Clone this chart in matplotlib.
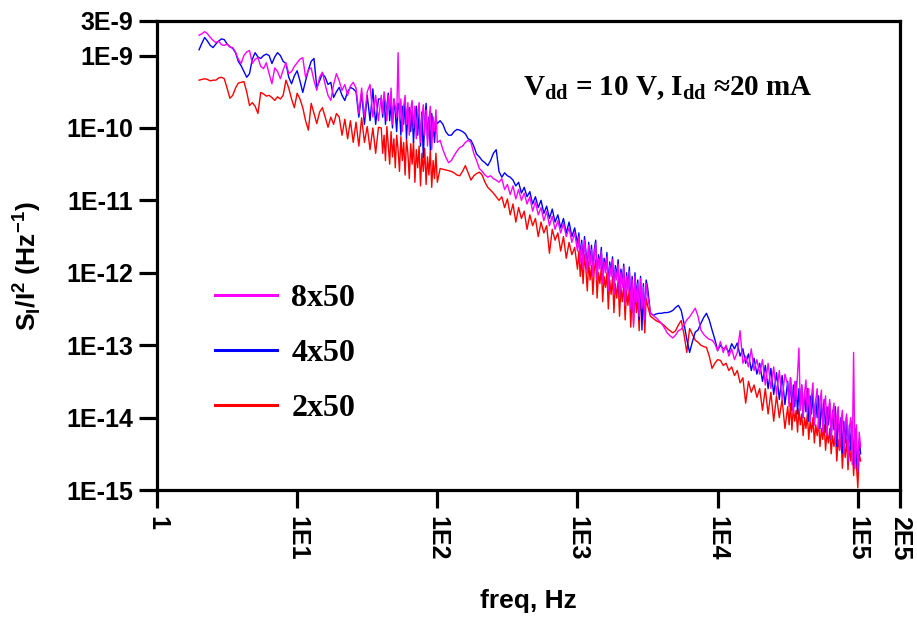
import numpy as np
import matplotlib
matplotlib.use("Agg")
import matplotlib.pyplot as plt
from matplotlib.ticker import FixedLocator, FixedFormatter, NullLocator
from matplotlib.lines import Line2D

plt.rcParams['font.family'] = ['Liberation Sans', 'DejaVu Sans']

# ---------------- data ----------------
# frequency grid (log10 Hz): coarser where the spectra are smooth, finer where dense
log_freq = np.concatenate([
    np.arange(30, 159, 2), np.arange(160, 201, 1),
    np.arange(202, 299, 2), np.arange(300, 351, 1),
    np.arange(352, 449, 2), np.arange(450, 503, 1),
]) / 100.0
freq_hz = 10.0 ** log_freq

# log10 of S_I/I^2 (Hz^-1)
log_psd_8x50 = np.array([
    -8.72, -8.70, -8.67, -8.70, -8.75, -8.79, -8.82, -8.80, -8.85, -8.86,
    -8.84, -8.88, -8.89, -8.95, -9.05, -9.11, -9.00, -8.95, -8.93, -9.11,
    -9.05, -9.03, -9.15, -9.18, -9.10, -9.25, -9.39, -9.17, -9.22, -9.32,
    -9.20, -9.10, -9.25, -9.22, -9.15, -9.10, -9.05, -9.03, -9.30, -9.20,
    -9.17, -9.35, -9.48, -9.30, -9.23, -9.40, -9.55, -9.62, -9.40, -9.25,
    -9.35, -9.48, -9.40, -9.55, -9.42, -9.37, -9.45, -9.80, -9.45, -9.85,
    -9.50, -9.40, -9.85, -9.55, -9.90,
    -9.55, -9.80, -9.50, -9.65, -9.90, -9.55, -9.75, -9.45, -9.95, -9.60,
    -9.70, -9.85, -8.96, -9.90, -9.60, -10.05, -9.70, -9.55, -9.95, -9.65,
    -10.10, -9.75, -9.62, -10.00, -9.70, -10.15, -9.80, -9.65, -10.20, -9.85,
    -9.68, -10.10, -9.75, -10.25, -9.90, -9.70, -10.30, -9.85, -10.05, -9.75,
    -10.20,
    -10.17, -10.30, -10.40, -10.48, -10.45, -10.38, -10.32, -10.27, -10.25, -10.20,
    -10.17, -10.20, -10.35, -10.45, -10.56, -10.60, -10.65, -10.68, -10.66, -10.70,
    -10.72, -10.75, -10.70, -10.85, -10.78, -10.92, -10.80, -10.98, -10.85, -11.00,
    -10.90, -11.05, -10.95, -11.15, -11.02, -11.20, -11.10, -11.28, -11.15, -11.35,
    -11.22, -11.40, -11.28, -11.45, -11.32, -11.50, -11.38, -11.58, -11.45,
    -11.70, -11.50, -11.85, -11.60, -11.95, -11.55, -11.75, -12.00, -11.62, -11.90,
    -11.68, -12.05, -11.72, -11.60, -12.10, -11.80, -11.95, -11.70, -12.15, -11.85,
    -12.00, -11.78, -12.25, -11.90, -12.05, -11.82, -12.30, -11.95, -12.10, -11.88,
    -12.35, -12.00, -12.20, -11.92, -12.45, -12.05, -12.25, -11.98, -12.50, -12.10,
    -12.75, -12.05, -12.40, -12.15, -12.60, -12.08, -12.50, -12.20, -12.65, -12.15,
    -12.30,
    -12.55, -12.59, -12.62, -12.66, -12.70, -12.76, -12.83, -12.87, -12.90, -12.86,
    -12.80, -12.78, -12.72, -12.65, -12.61, -12.55, -12.49, -12.60, -12.79, -12.85,
    -12.89, -12.92, -12.93, -12.98, -13.08, -12.95, -13.10, -13.00, -13.15, -13.05,
    -13.20, -13.10, -12.80, -13.25, -13.15, -13.30, -13.05, -13.35, -13.20, -13.40,
    -13.20, -13.55, -13.25, -13.60, -13.30, -13.68, -13.35, -13.75, -13.40,
    -13.55, -13.85, -13.45, -13.70, -13.95, -13.50, -13.75, -13.40, -13.04, -13.90,
    -13.55, -14.00, -13.65, -13.48, -13.95, -13.60, -14.05, -13.70, -13.52, -14.10,
    -13.75, -13.60, -14.15, -13.80, -13.62, -14.20, -13.85, -13.70, -14.25, -13.90,
    -13.75, -14.30, -13.95, -13.80, -14.35, -14.00, -13.85, -14.45, -14.05, -13.90,
    -14.50, -14.10, -13.95, -14.60, -14.15, -14.00, -14.65, -13.10, -14.70, -14.10,
    -14.75, -14.20, -14.40,
])

log_psd_4x50 = np.array([
    -8.92, -8.83, -8.75, -8.80, -8.86, -8.89, -8.84, -8.80, -8.77, -8.78,
    -8.84, -8.88, -8.90, -8.96, -9.08, -9.14, -9.22, -9.30, -9.25, -9.05,
    -8.96, -9.02, -9.04, -9.00, -8.98, -9.00, -9.11, -9.02, -8.96, -9.00,
    -9.08, -9.11, -9.30, -9.39, -9.28, -9.21, -9.35, -9.51, -9.35, -9.20,
    -9.08, -9.04, -9.44, -9.35, -9.25, -9.30, -9.40, -9.37, -9.58, -9.50,
    -9.44, -9.55, -9.62, -9.50, -9.44, -9.46, -9.50, -9.85, -9.52, -9.95,
    -9.55, -9.90, -9.46, -9.95, -9.60,
    -9.60, -9.85, -9.55, -9.95, -9.70, -9.52, -9.90, -9.65, -10.00, -9.60,
    -9.80, -10.05, -9.66, -9.75, -10.10, -9.70, -9.95, -9.62, -10.15, -9.80,
    -9.72, -10.05, -9.76, -10.20, -9.85, -9.70, -10.10, -9.80, -10.25, -9.78,
    -10.41, -9.90, -9.66, -10.15, -9.85, -10.30, -9.80, -9.95, -10.20, -9.88,
    -9.94,
    -9.90, -9.95, -10.05, -10.10, -10.10, -10.05, -10.02, -10.03, -10.05, -10.08,
    -10.15, -10.17, -10.25, -10.36, -10.40, -10.45, -10.48, -10.52, -10.45, -10.35,
    -10.30, -10.60, -10.68, -10.62, -10.66, -10.68, -10.72, -10.80, -10.75, -10.90,
    -10.82, -10.95, -10.88, -11.05, -10.95, -11.10, -11.00, -11.18, -11.08, -11.25,
    -11.12, -11.30, -11.20, -11.38, -11.25, -11.45, -11.30, -11.50, -11.38,
    -11.60, -11.45, -11.80, -11.55, -11.90, -11.50, -11.70, -11.95, -11.58, -11.85,
    -11.62, -12.00, -11.68, -11.55, -12.05, -11.75, -11.90, -11.65, -12.10, -11.80,
    -11.95, -11.72, -12.20, -11.85, -12.00, -11.78, -12.25, -11.90, -12.05, -11.82,
    -12.30, -11.95, -12.15, -11.88, -12.40, -12.00, -12.20, -11.92, -12.45, -12.05,
    -12.55, -12.00, -12.35, -12.10, -12.65, -12.05, -12.79, -12.15, -12.60, -12.10,
    -12.20,
    -12.55, -12.59, -12.57, -12.56, -12.56, -12.55, -12.55, -12.54, -12.52, -12.48,
    -12.45, -12.52, -12.70, -12.92, -13.10, -12.95, -12.82, -12.79, -12.70, -12.62,
    -12.56, -12.65, -12.79, -12.92, -13.07, -13.00, -13.05, -13.03, -13.10, -12.98,
    -13.05, -12.97, -13.15, -13.05, -13.25, -13.12, -13.35, -13.18, -13.40, -13.25,
    -13.50, -13.28, -13.60, -13.32, -13.68, -13.38, -13.75, -13.42, -13.82,
    -13.50, -13.80, -13.45, -13.90, -13.55, -13.85, -13.50, -13.95, -13.60, -13.88,
    -13.55, -14.00, -13.65, -13.92, -13.60, -14.05, -13.70, -13.95, -13.65, -14.10,
    -13.75, -14.00, -13.70, -14.15, -13.80, -14.05, -13.75, -14.20, -13.85, -14.10,
    -13.80, -14.30, -13.90, -14.17, -13.85, -14.40, -13.95, -14.25, -14.00, -14.49,
    -14.05, -14.35, -14.00, -14.59, -14.10, -14.45, -14.05, -14.65, -14.15, -14.55,
    -14.75, -14.30, -14.50,
])

log_psd_2x50 = np.array([
    -9.34, -9.33, -9.32, -9.33, -9.35, -9.34, -9.34, -9.31, -9.30, -9.32,
    -9.45, -9.59, -9.55, -9.45, -9.38, -9.37, -9.36, -9.50, -9.69, -9.65,
    -9.70, -9.80, -9.51, -9.53, -9.56, -9.55, -9.58, -9.62, -9.57, -9.60,
    -9.55, -9.34, -9.45, -9.60, -9.72, -9.52, -9.60, -9.72, -9.90, -10.03,
    -9.66, -9.80, -9.94, -9.78, -9.72, -9.85, -9.99, -9.85, -9.95, -9.80,
    -9.85, -10.10, -9.88, -10.15, -9.90, -10.20, -9.92, -10.25, -9.86, -10.20,
    -9.98, -10.30, -10.00, -10.35, -9.99,
    -10.00, -10.35, -10.10, -10.45, -9.98, -10.25, -10.50, -10.05, -10.40, -10.15,
    -10.55, -10.10, -10.30, -10.60, -10.12, -10.45, -10.20, -10.65, -10.15, -10.35,
    -10.70, -10.22, -10.50, -10.18, -10.75, -10.30, -10.55, -10.25, -10.80, -10.35,
    -10.60, -10.28, -10.78, -10.40, -10.65, -10.30, -10.82, -10.45, -10.70, -10.35,
    -10.75,
    -10.56, -10.57, -10.58, -10.59, -10.60, -10.62, -10.65, -10.66, -10.60, -10.52,
    -10.62, -10.72, -10.66, -10.63, -10.61, -10.65, -10.75, -10.82, -10.86, -10.90,
    -10.95, -11.00, -10.95, -11.10, -10.98, -11.20, -11.05, -11.30, -11.10, -11.25,
    -11.15, -11.40, -11.20, -11.35, -11.25, -11.50, -11.30, -11.45, -11.35, -11.73,
    -11.40, -11.55, -11.45, -11.70, -11.50, -11.80, -11.58, -11.75, -11.65,
    -11.95, -11.70, -12.05, -11.80, -12.15, -11.75, -11.95, -12.25, -11.85, -12.10,
    -11.90, -12.30, -11.95, -11.82, -12.35, -12.00, -12.15, -11.92, -12.40, -12.05,
    -12.20, -12.00, -12.50, -12.10, -12.30, -12.05, -12.55, -12.15, -12.35, -12.10,
    -12.60, -12.20, -12.40, -12.15, -12.65, -12.25, -12.45, -12.20, -12.75, -12.30,
    -12.70, -12.25, -12.55, -12.35, -12.80, -12.30, -12.60, -12.40, -12.83, -12.35,
    -12.45,
    -12.60, -12.63, -12.66, -12.68, -12.70, -12.73, -12.77, -12.80, -12.83, -12.80,
    -12.72, -12.66, -12.85, -13.10, -12.77, -12.85, -12.93, -12.96, -13.00, -13.02,
    -13.03, -13.15, -13.32, -13.25, -13.20, -13.21, -13.28, -13.25, -13.35, -13.30,
    -13.42, -13.35, -13.52, -13.45, -13.80, -13.50, -13.65, -13.55, -13.72, -13.60,
    -13.90, -13.60, -13.95, -13.65, -14.05, -13.70, -14.00, -13.75, -14.15,
    -13.85, -14.10, -13.80, -14.17, -13.85, -14.05, -13.90, -14.20, -13.88, -14.10,
    -13.95, -14.25, -14.00, -14.15, -13.95, -14.30, -14.05, -14.20, -14.00, -14.35,
    -14.10, -14.25, -14.05, -14.40, -14.15, -14.30, -14.10, -14.45, -14.20, -14.35,
    -14.15, -14.50, -14.25, -14.40, -14.20, -14.60, -14.30, -14.45, -14.25, -14.70,
    -14.35, -14.55, -14.30, -14.72, -14.40, -14.60, -14.35, -14.80, -14.45, -14.65,
    -14.97, -14.50, -14.60,
])

series_labels = ["8x50", "4x50", "2x50"]
series_colors = ["#FF00FF", "#0000FF", "#FF0000"]

x_ticks = [1, 1e1, 1e2, 1e3, 1e4, 1e5, 2e5]
x_tick_labels = ["1", "1E1", "1E2", "1E3", "1E4", "1E5", "2E5"]
y_ticks = [1e-15, 1e-14, 1e-13, 1e-12, 1e-11, 1e-10, 1e-9, 3e-9]
y_tick_labels = ["1E-15", "1E-14", "1E-13", "1E-12", "1E-11", "1E-10", "1E-9", "3E-9"]

# ---------------- figure ----------------
fig = plt.figure(figsize=(9.17, 6.21), dpi=100)
ax = fig.add_axes([157/917, 1 - 490/621, 743/917, 469/621])

psd = {
    "8x50": 10.0 ** log_psd_8x50,
    "4x50": 10.0 ** log_psd_4x50,
    "2x50": 10.0 ** log_psd_2x50,
}
# draw red first, magenta on top
for lab, col in zip(series_labels[::-1], series_colors[::-1]):
    ax.plot(freq_hz, psd[lab], color=col, lw=1.0)

ax.set_xscale("log")
ax.set_yscale("log")
ax.set_xlim(1, 2e5)
ax.set_ylim(1e-15, 3e-9)

ax.xaxis.set_major_locator(FixedLocator(x_ticks))
ax.xaxis.set_major_formatter(FixedFormatter(x_tick_labels))
ax.yaxis.set_major_locator(FixedLocator(y_ticks))
ax.yaxis.set_major_formatter(FixedFormatter(y_tick_labels))
ax.xaxis.set_minor_locator(NullLocator())
ax.yaxis.set_minor_locator(NullLocator())

for sp in ax.spines.values():
    sp.set_linewidth(2.3)
ax.tick_params(axis="both", which="major", direction="out", length=13, width=2.3)
ax.tick_params(axis="y", labelsize=18, pad=4)
ax.tick_params(axis="x", labelsize=18, pad=6, labelrotation=-90)
for t in ax.get_xticklabels() + ax.get_yticklabels():
    t.set_fontweight("bold")
for t in ax.get_xticklabels():
    t.set_va("top")
    t.set_ha("center")

ax.set_xlabel("freq, Hz", fontsize=19, fontweight="bold", labelpad=20)
ax.set_ylabel(r"S$_\mathregular{I}$/I$^\mathregular{2}$ (Hz$^\mathregular{-1}$)",
              fontsize=19, fontweight="bold")
ax.yaxis.set_label_coords(-0.153, 0.478)

ax.text(0.4926, 0.842,
        r"V$_\mathregular{dd}$ = 10 V, I$_\mathregular{dd}$ ≈20 mA",
        transform=ax.transAxes, fontsize=21, fontweight="bold",
        family=["Liberation Serif", "DejaVu Serif"], va="baseline", ha="left")

handles = [Line2D([], [], color=c, lw=2.2) for c in series_colors]
leg = ax.legend(handles, series_labels, loc="upper left",
                bbox_to_anchor=(0.078, 0.44), frameon=False,
                borderpad=0, borderaxespad=0, handlelength=1.94,
                handletextpad=0.45, labelspacing=0.8,
                prop={"family": ["Liberation Serif", "DejaVu Serif"],
                      "weight": "bold", "size": 23})

fig.savefig("out.png", dpi=100)
